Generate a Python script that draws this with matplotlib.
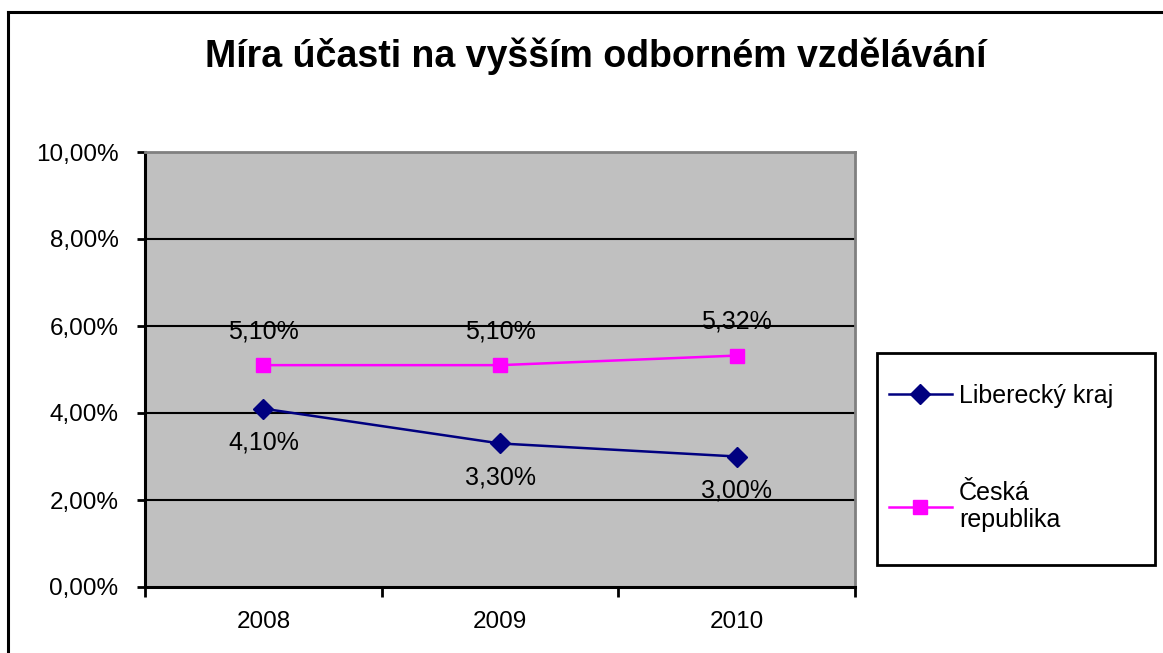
import numpy as np
import matplotlib.pyplot as plt
from matplotlib.lines import Line2D
from matplotlib.patches import Rectangle

plt.rcParams['font.family'] = ['Liberation Sans', 'DejaVu Sans']

years = ['2008', '2009', '2010']
liberec = [4.10, 3.30, 3.00]
cr = [5.10, 5.10, 5.32]
y_ticks = [0, 2, 4, 6, 8, 10]


def pct(v):
    return ('%.2f%%' % v).replace('.', ',')


fig = plt.figure(figsize=(11.63, 6.53), dpi=100)
W, H = 1163, 653

# outer chart border (left and top visible)
fig.add_artist(Line2D([8 / W, 8 / W], [0, 1 - 12 / H], color='black', lw=2.2, transform=fig.transFigure))
fig.add_artist(Line2D([8 / W, 1], [1 - 12 / H, 1 - 12 / H], color='black', lw=2.2, transform=fig.transFigure))

fig.text(596 / W, 1 - 56 / H, 'Míra účasti na vyšším odborném vzdělávání', fontsize=27,
         fontweight='bold', ha='center', va='center')

ax = fig.add_axes([145 / W, 66 / H, 710 / W, 435 / H])
ax.set_facecolor('#C0C0C0')

x = np.arange(len(years))
ax.plot(x, liberec, color='#000080', lw=1.8, marker='D', markersize=10, label='Liberecký kraj', zorder=3)
ax.plot(x, cr, color='#FF00FF', lw=1.8, marker='s', markersize=10, label='Česká\nrepublika', zorder=3)

for xi, v in zip(x, liberec):
    ax.annotate(pct(v), (xi, v), xytext=(0, -34), textcoords='offset pixels',
                ha='center', va='center', fontsize=18, color='black', zorder=4)
for xi, v in zip(x, cr):
    ax.annotate(pct(v), (xi, v), xytext=(0, 34), textcoords='offset pixels',
                ha='center', va='center', fontsize=18, color='black', zorder=4)

ax.set_xlim(-0.5, 2.5)
ax.set_ylim(0, 10)
ax.set_yticks(y_ticks)
ax.set_yticklabels([pct(v) for v in y_ticks], fontsize=17.5)
for v in y_ticks[1:-1]:
    ax.axhline(v, color='black', lw=1.5, zorder=1)

ax.set_xticks(np.arange(-0.5, 3, 1))
ax.set_xticklabels([])
ax.set_xticks(x, minor=True)
ax.set_xticklabels(years, minor=True, fontsize=17.5)
ax.tick_params(axis='x', which='minor', length=0, pad=17)
ax.tick_params(axis='x', which='major', direction='out', length=7, width=2)
ax.tick_params(axis='y', direction='out', length=6, width=2, pad=13)

ax.spines['left'].set_linewidth(2.2)
ax.spines['bottom'].set_linewidth(2.2)
ax.spines['top'].set_color('#808080')
ax.spines['right'].set_color('#808080')
ax.spines['top'].set_linewidth(2)
ax.spines['right'].set_linewidth(2)

# legend box
fig.add_artist(Rectangle((877 / W, 1 - 565 / H), 278 / W, 212 / H, transform=fig.transFigure,
                         facecolor='white', edgecolor='black', lw=2, zorder=-1))
ax.legend(loc='upper left', bbox_to_anchor=(889 / W, 1 - 384 / H), bbox_transform=fig.transFigure,
          fontsize=18, frameon=False, borderpad=0, labelspacing=2.9, handlelength=2.5,
          handletextpad=0.3, borderaxespad=0)

fig.savefig('out.png', dpi=100)
